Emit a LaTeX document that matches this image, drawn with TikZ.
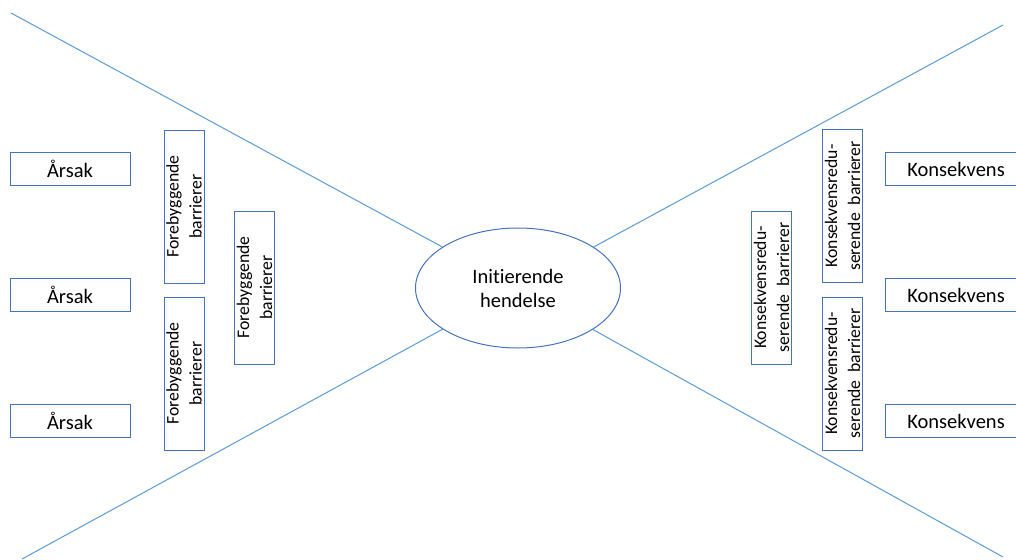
\documentclass[tikz,border=0pt]{standalone}
\usepackage{fontspec}
\setmainfont{Carlito}[Ligatures=NoCommon]
\usetikzlibrary{shapes.geometric}
\definecolor{boxblue}{HTML}{4472C4}
\definecolor{lineblue}{HTML}{5B9BD5}

\begin{document}
\begin{tikzpicture}[x=1pt,y=-1pt,
  every node/.style={font=\fontsize{20.5}{24}\selectfont},
  cause/.style={draw=boxblue,line width=1pt,minimum width=120pt,minimum height=33pt,inner sep=0pt},
  effect/.style={draw=boxblue,line width=1pt,minimum width=142pt,minimum height=33pt,inner sep=0pt},
  barrier/.style={draw=boxblue,line width=1pt,rotate=90,minimum width=153pt,minimum height=40pt,inner sep=0pt,align=center,
    font=\fontsize{17.7}{23}\selectfont},
  wing/.style={draw=lineblue,line width=1pt}]
  \useasboundingbox (0,0) rectangle (1016,559);
  % top event
  \node[ellipse,draw=boxblue,line width=1pt,minimum width=205pt,minimum height=120pt,inner sep=0pt,align=center]
    (event) at (518,288) {Initierende\\hendelse};
  % bow-tie wings
  \coordinate (tl) at (11,13);
  \coordinate (bl) at (22,559);
  \coordinate (tr) at (1003,25);
  \coordinate (br) at (1003,557);
  \draw[wing] (tl)--(event);
  \draw[wing] (bl)--(event);
  \draw[wing] (tr)--(event);
  \draw[wing] (br)--(event);
  % causes
  \node[cause] (c1) at (70,169) {Årsak};
  \node[cause] (c2) at (70,295) {Årsak};
  \node[cause] (c3) at (70,421) {Årsak};
  \node[barrier] (p1) at (184,206.5) {Forebyggende\\barrierer};
  \node[barrier] (p2) at (184,373.5) {Forebyggende\\barrierer};
  \node[barrier] (p3) at (254.5,287.5) {Forebyggende\\barrierer};
  % consequences
  \node[barrier] (m1) at (842.5,206) {Konsekvensredu-\\serende~~barrierer};
  \node[barrier] (m2) at (842.5,373.5) {Konsekvensredu-\\serende~~barrierer};
  \node[barrier] (m3) at (771.5,287.5) {Konsekvensredu-\\serende~~barrierer};
  \node[effect] (k1) at (956,169) {Konsekvens};
  \node[effect] (k2) at (956,295) {Konsekvens};
  \node[effect] (k3) at (956,421) {Konsekvens};
\end{tikzpicture}
\end{document}
